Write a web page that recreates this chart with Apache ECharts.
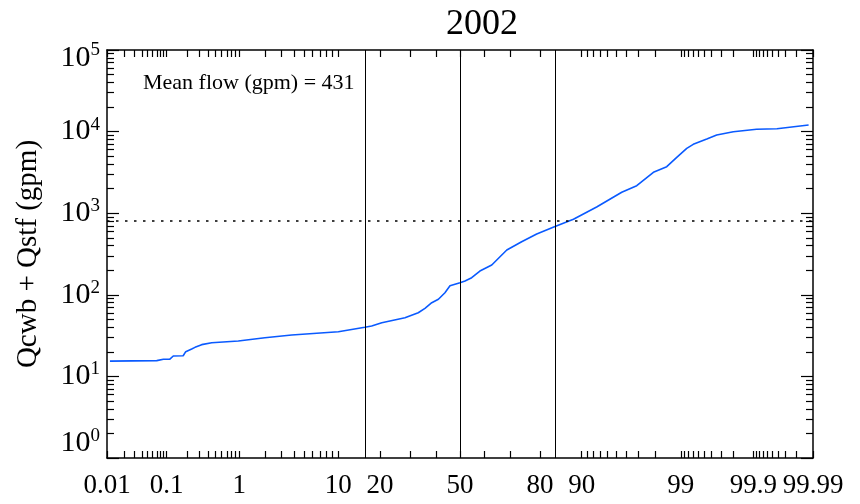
<!DOCTYPE html>
<html>
<head>
<meta charset="utf-8">
<script src="https://cdn.jsdelivr.net/npm/echarts@6/dist/echarts.min.js"></script>
<style>
  html, body { margin: 0; padding: 0; background: #ffffff; }
  #chart { width: 860px; height: 504px; }
</style>
</head>
<body>
<div id="chart"></div>
<script>
// Flow duration curve, 2002: combined flow against percent of time, on normal-probability paper.
const yearTitle = '2002';
const meanFlow = 431;

// Percent of time (probability, %) and flow (gpm) along the curve
const probability = [0.0113, 0.070, 0.089, 0.112, 0.126, 0.177, 0.193, 0.235, 0.262, 0.325,
  0.445, 0.975, 1.99, 3.81, 10.0, 15.8, 17.6, 20.5, 28.1, 33.0,
  35.6, 38.3, 41.0, 43.7, 45.8, 50.0, 52.1, 54.9, 58.3, 63.1,
  68.9, 74.2, 79.05, 84.0, 88.4, 92.5, 95.58, 96.87, 97.92, 98.53,
  98.88, 99.155, 99.30, 99.534, 99.658, 99.801, 99.911, 99.958, 99.988];
const flow = [15.4, 15.6, 16.2, 16.3, 17.8, 17.9, 20.1, 21.7, 22.7, 24.5,
  25.9, 27.2, 29.8, 32.2, 35.3, 40.0, 41.5, 45.5, 52.4, 60.3,
  68.3, 80.0, 88.1, 106, 129, 140.7, 147.6, 162, 195.7, 231.8,
  354, 447.5, 556, 683, 842, 1191, 1803, 2173, 3171, 3715,
  4842, 6238, 6984, 8112, 9085, 9972, 10670, 10850, 12050];

// Reference lines: mean and +/- one standard deviation percentiles, and a flow threshold
const sigmaLines = [15.87, 50, 84.13];
const thresholdFlow = [800];

// Axis ticks
const xTickLabels = ['0.01', '0.1', '1', '10', '20', '50', '80', '90', '99', '99.9', '99.99'];
const xMinorTicks = [0.02, 0.03, 0.04, 0.05, 0.06, 0.07, 0.08, 0.09,
  0.2, 0.3, 0.4, 0.5, 0.6, 0.7, 0.8, 0.9,
  2, 3, 4, 5, 6, 7, 8, 9,
  30, 40, 60, 70,
  91, 92, 93, 94, 95, 96, 97, 98,
  99.1, 99.2, 99.3, 99.4, 99.5, 99.6, 99.7, 99.8,
  99.91, 99.92, 99.93, 99.94, 99.95, 99.96, 99.97, 99.98];
const yTickValues = [1, 10, 100, 1000, 10000, 100000];

// Inverse standard normal CDF (Acklam's rational approximation)
function probit(p) {
  const a = [-3.969683028665376e+01, 2.209460984245205e+02, -2.759285104469687e+02,
    1.383577518672690e+02, -3.066479806614716e+01, 2.506628277459239e+00];
  const b = [-5.447609879822406e+01, 1.615858368580409e+02, -1.556989798598866e+02,
    6.680131188771972e+01, -1.328068155288572e+01];
  const c = [-7.784894002430293e-03, -3.223964580411365e-01, -2.400758277161838e+00,
    -2.549732539343734e+00, 4.374664141464968e+00, 2.938163982698783e+00];
  const d = [7.784695709041462e-03, 3.224671290700398e-01, 2.445134137142996e+00,
    3.754408661907416e+00];
  const pLow = 0.02425, pHigh = 1 - pLow;
  let q, r;
  if (p < pLow) {
    q = Math.sqrt(-2 * Math.log(p));
    return (((((c[0] * q + c[1]) * q + c[2]) * q + c[3]) * q + c[4]) * q + c[5]) /
      ((((d[0] * q + d[1]) * q + d[2]) * q + d[3]) * q + 1);
  }
  if (p <= pHigh) {
    q = p - 0.5; r = q * q;
    return (((((a[0] * r + a[1]) * r + a[2]) * r + a[3]) * r + a[4]) * r + a[5]) * q /
      (((((b[0] * r + b[1]) * r + b[2]) * r + b[3]) * r + b[4]) * r + 1);
  }
  q = Math.sqrt(-2 * Math.log(1 - p));
  return -(((((c[0] * q + c[1]) * q + c[2]) * q + c[3]) * q + c[4]) * q + c[5]) /
    ((((d[0] * q + d[1]) * q + d[2]) * q + d[3]) * q + 1);
}
const zOf = pct => probit(pct / 100);

const xMin = zOf(parseFloat(xTickLabels[0]));
const xMax = zOf(parseFloat(xTickLabels[xTickLabels.length - 1]));
const xLabelValues = xTickLabels.map(s => zOf(parseFloat(s)));
const xTickValues = xLabelValues.concat(xMinorTicks.map(zOf));

const yMinorTicks = [];
for (let dec = 1; dec < 100000; dec *= 10) {
  for (let k = 2; k <= 9; k++) yMinorTicks.push(k * dec);
}

const FONT = 'Liberation Serif';
const INK = '#000000';

function xLabelFor(v) {
  let best = 0, bestD = Infinity;
  xLabelValues.forEach((z, i) => {
    const dd = Math.abs(z - v);
    if (dd < bestD) { bestD = dd; best = i; }
  });
  return xTickLabels[best];
}

// Power-of-ten labels; the end labels are nudged inward so they stay clear of the corners
function yLabelFor(v) {
  const e = Math.round(Math.log10(v));
  let tag = '';
  if (v === yTickValues[yTickValues.length - 1]) tag = 'T';
  else if (v === yTickValues[0]) tag = 'B';
  return '{b' + tag + '|10}{s' + tag + '|' + e + '}';
}

const baseTok = { fontFamily: FONT, fontSize: 30, lineHeight: 30, color: INK };
const supTok = { fontFamily: FONT, fontSize: 19, lineHeight: 19, color: INK };

const chart = echarts.init(document.getElementById('chart'), null, { renderer: 'canvas' });

const frameLine = { show: true, onZero: false, lineStyle: { color: INK, width: 1.5 } };
const hiddenLine = { show: false, onZero: false };

function xAxisDef(position, withLabels) {
  return {
    type: 'value', position: position, min: xMin, max: xMax,
    axisLine: frameLine,
    splitLine: { show: false },
    axisTick: { show: true, inside: true, length: 7, customValues: xTickValues,
      lineStyle: { color: INK, width: 1.2 } },
    axisLabel: withLabels ? {
      show: true, customValues: xLabelValues, margin: 14,
      fontFamily: FONT, fontSize: 27, color: INK,
      formatter: xLabelFor
    } : { show: false }
  };
}

function yAxisDef(position, ticks, len, withLabels, showLine) {
  const ax = {
    type: 'log', logBase: 10, position: position, min: 1, max: 100000,
    axisLine: showLine ? frameLine : hiddenLine,
    splitLine: { show: false },
    axisTick: { show: true, inside: true, length: len, customValues: ticks,
      lineStyle: { color: INK, width: 1.2 } },
    axisLabel: { show: false }
  };
  if (withLabels) {
    ax.axisLabel = {
      show: true, customValues: yTickValues, margin: 7,
      formatter: yLabelFor,
      rich: {
        b: baseTok,
        s: Object.assign({}, supTok, { padding: [0, 0, 14, 0] }),
        bT: Object.assign({}, baseTok, { padding: [17, 0, 0, 0] }),
        sT: Object.assign({}, supTok, { padding: [14, 0, 14, 0] }),
        bB: Object.assign({}, baseTok, { padding: [0, 0, 29, 0] }),
        sB: Object.assign({}, supTok, { padding: [0, 0, 43, 0] })
      }
    };
    ax.name = 'Qcwb + Qstf (gpm)';
    ax.nameLocation = 'middle';
    ax.nameRotate = 90;
    ax.nameGap = 64;
    ax.nameTextStyle = { fontFamily: FONT, fontSize: 29, color: INK };
  }
  return ax;
}

const curve = probability.map((p, i) => [zOf(p), flow[i]]);

chart.setOption({
  animation: false,
  backgroundColor: '#ffffff',
  title: {
    text: yearTitle, left: 477, top: 2, textAlign: 'center',
    textStyle: { fontFamily: FONT, fontSize: 36, fontWeight: 'normal', color: INK }
  },
  grid: { left: 107, right: 47, top: 50, bottom: 46, containLabel: false },
  xAxis: [xAxisDef('bottom', true), xAxisDef('top', false)],
  yAxis: [
    yAxisDef('left', yTickValues, 12, true, true),
    yAxisDef('left', yMinorTicks, 7, false, false),
    yAxisDef('right', yTickValues, 12, false, true),
    yAxisDef('right', yMinorTicks, 7, false, false)
  ],
  graphic: [{
    type: 'text', left: 143, top: 72, silent: true,
    style: { text: 'Mean flow (gpm) = ' + meanFlow, fontFamily: FONT, fontSize: 22, fill: INK }
  }],
  series: [{
    type: 'line',
    xAxisIndex: 0, yAxisIndex: 0,
    data: curve,
    showSymbol: false, symbol: 'none',
    lineStyle: { color: '#0a5aff', width: 1.6 },
    z: 3,
    markLine: {
      silent: true, symbol: 'none', animation: false,
      label: { show: false },
      data: sigmaLines.map(p => ({ xAxis: zOf(p), lineStyle: { color: INK, width: 1, type: 'solid' } }))
        .concat(thresholdFlow.map(v => ({ yAxis: v, lineStyle: { color: INK, width: 1.6, type: [2.5, 6.5] } })))
    }
  }]
});
</script>
</body>
</html>
